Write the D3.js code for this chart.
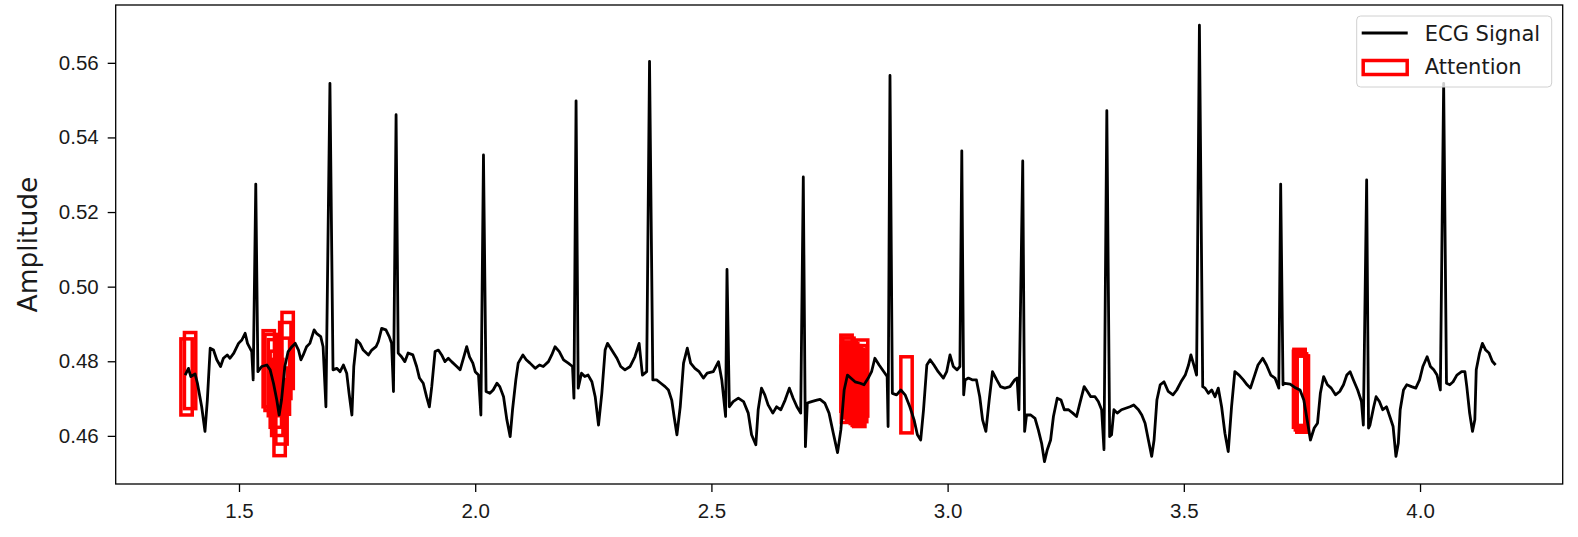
<!DOCTYPE html>
<html>
<head>
<meta charset="utf-8">
<script src="https://cdn.jsdelivr.net/npm/d3@7"></script>
<style>
  body { margin: 0; background: #fff; }
  svg { display: block; font-family: "DejaVu Sans", sans-serif; }
</style>
</head>
<body>
<div id="chart"></div>
<script>
// ECG samples (time in s, amplitude)
const time = [
  1.386, 1.393, 1.398, 1.407, 1.412, 1.421, 1.428, 1.433, 1.439, 1.446,
  1.453, 1.461, 1.467, 1.475, 1.481, 1.489, 1.499, 1.506, 1.513, 1.518,
  1.527, 1.530, 1.5355, 1.540, 1.548, 1.559, 1.566, 1.573, 1.580, 1.585,
  1.590, 1.597, 1.604, 1.612, 1.619, 1.626, 1.631, 1.636, 1.643, 1.650,
  1.659, 1.664, 1.673, 1.678, 1.684, 1.6925, 1.699, 1.707, 1.714, 1.721,
  1.728, 1.733, 1.739, 1.743, 1.749, 1.756, 1.763, 1.774, 1.781, 1.790,
  1.795, 1.802, 1.811, 1.818, 1.823, 1.827, 1.8325, 1.837, 1.844, 1.851,
  1.858, 1.868, 1.876, 1.882, 1.890, 1.897, 1.903, 1.908, 1.915, 1.922,
  1.929, 1.936, 1.943, 1.950, 1.961, 1.968, 1.975, 1.982, 1.988, 1.995,
  2.000, 2.007, 2.012, 2.0175, 2.023, 2.031, 2.038, 2.046, 2.052, 2.060,
  2.067, 2.074, 2.079, 2.086, 2.091, 2.101, 2.108, 2.116, 2.127, 2.136,
  2.144, 2.155, 2.162, 2.169, 2.178, 2.187, 2.197, 2.206, 2.209, 2.2135,
  2.218, 2.225, 2.232, 2.239, 2.247, 2.254, 2.261, 2.268, 2.275, 2.280,
  2.289, 2.300, 2.308, 2.317, 2.328, 2.338, 2.347, 2.354, 2.363, 2.369,
  2.376, 2.384, 2.393, 2.402, 2.409, 2.416, 2.421, 2.427, 2.434, 2.441,
  2.449, 2.456, 2.465, 2.474, 2.483, 2.491, 2.504, 2.515, 2.522, 2.530,
  2.533, 2.538, 2.546, 2.557, 2.568, 2.578, 2.585, 2.594, 2.599, 2.606,
  2.613, 2.620, 2.630, 2.638, 2.647, 2.656, 2.665, 2.673, 2.681, 2.689,
  2.6945, 2.699, 2.703, 2.712, 2.723, 2.730, 2.740, 2.749, 2.758, 2.767,
  2.774, 2.781, 2.788, 2.795, 2.804, 2.815, 2.823, 2.832, 2.839, 2.846,
  2.855, 2.865, 2.872, 2.874, 2.878, 2.883, 2.892, 2.901, 2.910, 2.920,
  2.929, 2.936, 2.943, 2.949, 2.956, 2.963, 2.971, 2.980, 2.991, 2.998,
  3.005, 3.012, 3.020, 3.026, 3.030, 3.034, 3.037, 3.044, 3.053, 3.061,
  3.068, 3.074, 3.081, 3.088, 3.095, 3.104, 3.112, 3.121, 3.132, 3.142,
  3.147, 3.151, 3.159, 3.163, 3.167, 3.176, 3.185, 3.192, 3.199, 3.205,
  3.211, 3.218, 3.224, 3.232, 3.240, 3.247, 3.256, 3.265, 3.273, 3.280,
  3.289, 3.296, 3.303, 3.312, 3.319, 3.326, 3.331, 3.337, 3.343, 3.347,
  3.352, 3.359, 3.368, 3.377, 3.386, 3.394, 3.404, 3.411, 3.418, 3.425,
  3.432, 3.437, 3.443, 3.450, 3.458, 3.467, 3.477, 3.485, 3.494, 3.503,
  3.510, 3.515, 3.522, 3.527, 3.533, 3.540, 3.545, 3.552, 3.559, 3.566,
  3.573, 3.580, 3.587, 3.594, 3.601, 3.608, 3.617, 3.626, 3.634, 3.641,
  3.650, 3.657, 3.667, 3.675, 3.684, 3.693, 3.701, 3.705, 3.710, 3.714,
  3.725, 3.735, 3.746, 3.754, 3.761, 3.768, 3.776, 3.783, 3.789, 3.796,
  3.804, 3.812, 3.821, 3.830, 3.838, 3.845, 3.852, 3.859, 3.868, 3.876,
  3.880, 3.887, 3.891, 3.894, 3.902, 3.907, 3.914, 3.921, 3.929, 3.936,
  3.943, 3.949, 3.954, 3.958, 3.965, 3.972, 3.982, 3.991, 3.999, 4.006,
  4.015, 4.022, 4.029, 4.036, 4.043, 4.050, 4.056, 4.063, 4.070, 4.078,
  4.088, 4.095, 4.099, 4.105, 4.111, 4.116, 4.119, 4.126, 4.132, 4.139,
  4.146, 4.153, 4.160
];
const amplitude = [
  0.4763, 0.4781, 0.4759, 0.4766, 0.4741, 0.4678, 0.4612, 0.4696, 0.4835, 0.4830,
  0.4804, 0.4786, 0.4808, 0.4817, 0.4808, 0.4822, 0.4848, 0.4857, 0.4875, 0.4848,
  0.4826, 0.4750, 0.5275, 0.4772, 0.4786, 0.4790, 0.4777, 0.4741, 0.4696, 0.4656,
  0.4696, 0.4786, 0.4826, 0.4839, 0.4848, 0.4830, 0.4804, 0.4817, 0.4839, 0.4848,
  0.4884, 0.4875, 0.4866, 0.4839, 0.4678, 0.5545, 0.4777, 0.4781, 0.4772, 0.4790,
  0.4768, 0.4714, 0.4656, 0.4786, 0.4857, 0.4848, 0.4830, 0.4817, 0.4830, 0.4839,
  0.4853, 0.4888, 0.4884, 0.4866, 0.4848, 0.4719, 0.5461, 0.4822, 0.4812, 0.4799,
  0.4822, 0.4817, 0.4786, 0.4755, 0.4741, 0.4705, 0.4678, 0.4732, 0.4826, 0.4830,
  0.4817, 0.4799, 0.4808, 0.4799, 0.4786, 0.4777, 0.4808, 0.4839, 0.4812, 0.4795,
  0.4772, 0.4763, 0.4656, 0.5353, 0.4719, 0.4714, 0.4723, 0.4741, 0.4732, 0.4705,
  0.4643, 0.4598, 0.4670, 0.4750, 0.4795, 0.4817, 0.4804, 0.4795, 0.4781, 0.4790,
  0.4786, 0.4799, 0.4817, 0.4839, 0.4826, 0.4804, 0.4795, 0.4786, 0.4701, 0.5498,
  0.4728, 0.4768, 0.4759, 0.4763, 0.4745, 0.4705, 0.4629, 0.4714, 0.4830, 0.4848,
  0.4830, 0.4808, 0.4786, 0.4777, 0.4786, 0.4812, 0.4848, 0.4763, 0.4772, 0.5604,
  0.4750, 0.4750, 0.4741, 0.4732, 0.4723, 0.4696, 0.4652, 0.4603, 0.4678, 0.4795,
  0.4835, 0.4795, 0.4781, 0.4772, 0.4755, 0.4768, 0.4772, 0.4799, 0.4750, 0.4652,
  0.5046, 0.4678, 0.4692, 0.4701, 0.4692, 0.4661, 0.4603, 0.4576, 0.4670, 0.4728,
  0.4710, 0.4683, 0.4661, 0.4678, 0.4670, 0.4696, 0.4728, 0.4701, 0.4678, 0.4661,
  0.5294, 0.4571, 0.4688, 0.4692, 0.4696, 0.4698, 0.4688, 0.4661, 0.4607, 0.4555,
  0.4616, 0.4723, 0.4763, 0.4755, 0.4745, 0.4741, 0.4737, 0.4755, 0.4772, 0.4808,
  0.4790, 0.4772, 0.4759, 0.4625, 0.5566, 0.4714, 0.4710, 0.4723, 0.4710, 0.4678,
  0.4643, 0.4603, 0.4589, 0.4670, 0.4790, 0.4804, 0.4790, 0.4772, 0.4755, 0.4772,
  0.4817, 0.4786, 0.4777, 0.4786, 0.5364, 0.4710, 0.4750, 0.4755, 0.4750, 0.4750,
  0.4705, 0.4643, 0.4612, 0.4696, 0.4772, 0.4750, 0.4732, 0.4728, 0.4732, 0.4750,
  0.4755, 0.4670, 0.5337, 0.4612, 0.4656, 0.4656, 0.4647, 0.4616, 0.4580, 0.4531,
  0.4563, 0.4589, 0.4652, 0.4701, 0.4696, 0.4670, 0.4670, 0.4661, 0.4652, 0.4688,
  0.4732, 0.4719, 0.4705, 0.4705, 0.4692, 0.4670, 0.4563, 0.5472, 0.4598, 0.4603,
  0.4670, 0.4661, 0.4670, 0.4674, 0.4678, 0.4683, 0.4670, 0.4656, 0.4634, 0.4589,
  0.4545, 0.4589, 0.4696, 0.4737, 0.4745, 0.4719, 0.4710, 0.4723, 0.4745, 0.4763,
  0.4790, 0.4817, 0.4786, 0.4763, 0.5701, 0.4732, 0.4728, 0.4714, 0.4723, 0.4705,
  0.4728, 0.4678, 0.4607, 0.4558, 0.4678, 0.4772, 0.4763, 0.4750, 0.4737, 0.4728,
  0.4763, 0.4790, 0.4808, 0.4790, 0.4763, 0.4755, 0.4728, 0.5275, 0.4737, 0.4741,
  0.4739, 0.4730, 0.4723, 0.4696, 0.4643, 0.4589, 0.4621, 0.4634, 0.4714, 0.4759,
  0.4737, 0.4728, 0.4710, 0.4719, 0.4737, 0.4763, 0.4772, 0.4750, 0.4723, 0.4692,
  0.4629, 0.5286, 0.4621, 0.4629, 0.4678, 0.4705, 0.4692, 0.4670, 0.4678, 0.4652,
  0.4625, 0.4545, 0.4580, 0.4670, 0.4723, 0.4737, 0.4732, 0.4728, 0.4750, 0.4786,
  0.4812, 0.4786, 0.4777, 0.4763, 0.4723, 0.5545, 0.4741, 0.4737, 0.4745, 0.4763,
  0.4772, 0.4772, 0.4732, 0.4661, 0.4612, 0.4643, 0.4777, 0.4822, 0.4848, 0.4830,
  0.4822, 0.4800, 0.4790
];

// attention windows: centre time and signal value at that time
const attnTime = [
  1.389, 1.3965,
  1.563, 1.567, 1.574, 1.578, 1.581, 1.586, 1.590, 1.595, 1.598, 1.603,
  2.786, 2.787, 2.790, 2.794, 2.798, 2.802, 2.806, 2.810, 2.813, 2.817, 2.819,
  2.913,
  3.744, 3.745, 3.748, 3.751, 3.752
];
const attnValue = [
  0.4758, 0.4775,
  0.4780, 0.4770, 0.4756, 0.4725, 0.4703, 0.4649, 0.4680, 0.4760, 0.4802, 0.4829,
  0.4768, 0.4738, 0.4760, 0.4750, 0.4745, 0.4740, 0.4735, 0.4730, 0.4727, 0.4740, 0.4755,
  0.4710,
  0.4725, 0.4730, 0.4718, 0.4712, 0.4712
];

const xTicks = [1.5, 2.0, 2.5, 3.0, 3.5, 4.0];
const yTicks = [0.46, 0.48, 0.50, 0.52, 0.54, 0.56];

const width = 1578;
const height = 537;
const plot = { left: 115.7, right: 1562.7, top: 5, bottom: 484 };
const boxHalfW = 0.012;
const boxHalfH = 0.0102;

const svg = d3.select('#chart')
  .append('svg')
  .attr('width', width)
  .attr('height', height);

const x = d3.scaleLinear()
  .domain([1.239, 4.302])
  .range([plot.left, plot.right]);

const y = d3.scaleLinear()
  .domain([0.4471, 0.5755])
  .range([plot.bottom, plot.top]);

const signal = time.map((t, i) => ({ t: t, v: amplitude[i] }));
const attention = attnTime.map((t, i) => ({ t: t, v: attnValue[i] }));

// attention boxes sit under the signal
svg.append('g')
  .selectAll('rect')
  .data(attention)
  .enter()
  .append('rect')
  .attr('x', d => x(d.t - boxHalfW))
  .attr('y', d => y(d.v + boxHalfH))
  .attr('width', d => x(d.t + boxHalfW) - x(d.t - boxHalfW))
  .attr('height', d => y(d.v - boxHalfH) - y(d.v + boxHalfH))
  .attr('fill', 'none')
  .attr('stroke', '#ff0000')
  .attr('stroke-width', 3.5);

const line = d3.line()
  .x(d => x(d.t))
  .y(d => y(d.v));

svg.append('path')
  .datum(signal)
  .attr('d', line)
  .attr('fill', 'none')
  .attr('stroke', '#000')
  .attr('stroke-width', 2.8)
  .attr('stroke-linejoin', 'round');

// axes
const xAxis = svg.append('g')
  .attr('transform', `translate(0,${plot.bottom})`)
  .call(d3.axisBottom(x).tickValues(xTicks).tickFormat(d3.format('.1f'))
    .tickSize(8).tickPadding(11).tickSizeOuter(0));

const yAxis = svg.append('g')
  .attr('transform', `translate(${plot.left},0)`)
  .call(d3.axisLeft(y).tickValues(yTicks).tickFormat(d3.format('.2f'))
    .tickSize(8).tickPadding(9).tickSizeOuter(0));

[xAxis, yAxis].forEach(g => {
  g.select('.domain').remove();
  g.selectAll('line').attr('stroke', '#000').attr('stroke-width', 1.3);
  g.selectAll('text').attr('fill', '#1a1a1a').style('font-size', '20.5px');
});

// frame
svg.append('rect')
  .attr('x', plot.left)
  .attr('y', plot.top)
  .attr('width', plot.right - plot.left)
  .attr('height', plot.bottom - plot.top)
  .attr('fill', 'none')
  .attr('stroke', '#000')
  .attr('stroke-width', 1.3);

svg.append('text')
  .attr('transform', `translate(37,${(plot.top + plot.bottom) / 2}) rotate(-90)`)
  .attr('text-anchor', 'middle')
  .attr('fill', '#1a1a1a')
  .style('font-size', '26.5px')
  .text('Amplitude');

// legend
const legend = svg.append('g').attr('transform', 'translate(1356.7,16)');

legend.append('rect')
  .attr('width', 195)
  .attr('height', 71)
  .attr('rx', 4)
  .attr('fill', '#fff')
  .attr('fill-opacity', 0.8)
  .attr('stroke', '#d0d0d0')
  .attr('stroke-width', 1);

legend.append('line')
  .attr('x1', 5).attr('x2', 51)
  .attr('y1', 17).attr('y2', 17)
  .attr('stroke', '#000')
  .attr('stroke-width', 2.8);

legend.append('rect')
  .attr('x', 6.5).attr('y', 44.5)
  .attr('width', 44).attr('height', 14)
  .attr('fill', 'none')
  .attr('stroke', '#ff0000')
  .attr('stroke-width', 3.5);

legend.append('text')
  .attr('x', 68).attr('y', 24.5)
  .attr('fill', '#1a1a1a')
  .style('font-size', '21px')
  .text('ECG Signal');

legend.append('text')
  .attr('x', 68).attr('y', 58)
  .attr('fill', '#1a1a1a')
  .style('font-size', '21px')
  .text('Attention');
</script>
</body>
</html>
